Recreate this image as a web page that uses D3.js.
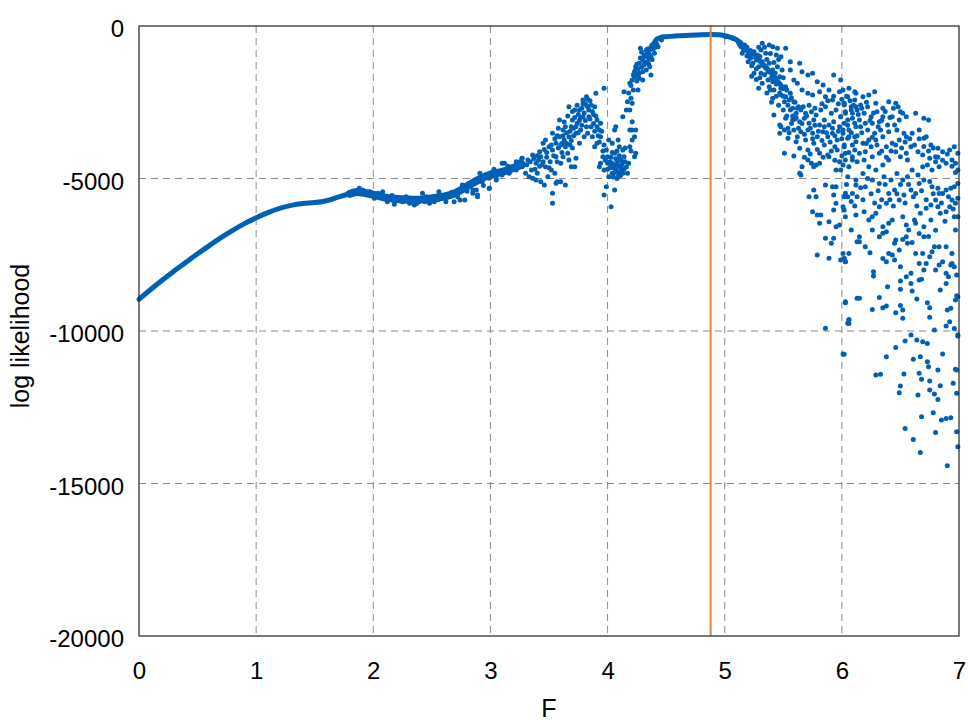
<!DOCTYPE html>
<html>
<head>
<meta charset="utf-8">
<script src="https://cdn.jsdelivr.net/npm/d3@7"></script>
<style>
  body { margin: 0; background: #fff; }
  svg text { font-family: "Liberation Sans", Arial, Helvetica, sans-serif; fill: #000; }
</style>
</head>
<body>
<div id="chart"></div>
<script>
// ---- data ----
const xTicks = [0, 1, 2, 3, 4, 5, 6, 7];
const yTicks = [0, -5000, -10000, -15000, -20000];
const peakF = 4.88;

// smooth part of the curve (dots so dense they form a line)
const ridgeF = [0, 0.1, 0.2, 0.3, 0.4, 0.5, 0.6, 0.7, 0.8, 0.9, 1.0, 1.1, 1.2, 1.3, 1.4, 1.5, 1.6, 1.7, 1.8, 1.86];
const ridgeLL = [-8960, -8640, -8330, -8030, -7750, -7470, -7200, -6940, -6700, -6480, -6290, -6120, -5980, -5880, -5820, -5790, -5730, -5610, -5500, -5440];

// noisy but dense band between 1.85 and 3.3
const bandF = [1.8, 1.86, 2.0, 2.14, 2.34, 2.48, 2.62, 2.71, 2.79, 2.91, 3.0, 3.1, 3.2, 3.27];
const bandLL = [-5500, -5440, -5530, -5650, -5700, -5660, -5580, -5460, -5280, -5020, -4870, -4780, -4650, -4540];

// plateau around the maximum
const plateauF = [4.40, 4.42, 4.45, 4.5, 4.6, 4.7, 4.8, 4.88, 4.95, 5.0, 5.05, 5.1, 5.14];
const plateauLL = [-540, -430, -380, -350, -320, -300, -285, -280, -290, -320, -370, -450, -560];

// dense start of the falling tail
const tailRidgeF = [5.12, 5.2, 5.3, 5.4, 5.5];
const tailRidgeLL = [-560, -850, -1150, -1550, -2050];

const bandPts = [
  [1.88,-5323],[1.91,-5377],[1.97,-5432],[2.01,-5650],[2.08,-5596],[2.12,-5760],[2.18,-5847],[2.25,-5760],
  [2.31,-5814],[2.35,-5869],[2.39,-5760],[2.42,-5487],[2.48,-5814],[2.52,-5760],[2.56,-5432],[2.62,-5760],
  [2.65,-5596],[2.69,-5760],[2.74,-5705],[2.78,-5705],[2.76,-5213],[2.82,-5159],[2.89,-5541],[2.91,-4831],
  [2.99,-5323],[3.05,-5050],[3.10,-4503],[3.22,-4448],[3.27,-4339],[2.22,-5705],[2.45,-5596],[2.08,-5432],
  [2.59,-5596],[2.85,-5377],[2.85,-5159],[2.88,-5377],[2.91,-4995],[2.93,-5104],[2.96,-4886],[2.99,-4995],
  [3.02,-4831],[3.05,-4940],[3.08,-4776],[3.10,-4886],[3.13,-4722],[3.16,-4831],[3.19,-4612],[3.22,-4722],
  [2.85,-5487],[2.89,-5596],[2.99,-5323],[1.94,-5450],[2.04,-5480],[2.16,-5560],[2.28,-5600],[2.37,-5820],
  [2.44,-5760],[2.55,-5700],[2.67,-5450],[2.72,-5600],[2.80,-5420],[2.94,-5230],[3.03,-4700],[3.15,-4600]
];

const humpPts = [
  [3.25,-4448],[3.27,-4612],[3.30,-4831],[3.32,-4394],[3.35,-4722],[3.36,-4995],[3.39,-4503],[3.40,-4831],
  [3.43,-5104],[3.46,-5213],[3.49,-4940],[3.47,-4612],[3.43,-4284],[3.42,-4120],[3.12,-4503],[3.27,-4339],
  [3.36,-4230],[3.33,-4940],[3.39,-5050],[3.52,-4722],[3.55,-4831],[3.56,-5159],[3.60,-5104],[3.64,-5213],
  [3.53,-5487],[3.53,-5815],[3.57,-5104],
  [3.45,-3847],[3.47,-3738],[3.50,-3957],[3.53,-4066],[3.56,-3847],[3.59,-3629],[3.59,-3082],[3.62,-3410],
  [3.63,-3738],[3.64,-3957],[3.66,-4175],[3.67,-4394],[3.69,-4612],[3.72,-4612],[3.67,-3629],[3.69,-3301],
  [3.70,-3082],[3.67,-2645],[3.72,-2754],[3.73,-3519],[3.74,-3191],[3.76,-3847],[3.77,-3410],[3.79,-2973],
  [3.79,-2426],[3.82,-2317],[3.83,-2645],[3.84,-2973],[3.86,-3301],[3.87,-3629],[3.80,-3629],[3.83,-3519],
  [3.89,-2645],[3.90,-2208],[3.91,-3082],[3.93,-3410],[3.94,-3191],[3.97,-2044],[3.53,-3519],[3.56,-4284],
  [3.62,-4284],[3.73,-4339],[3.82,-3301],[3.48,-4300],[3.51,-4450],[3.58,-4000],[3.61,-3850],[3.65,-3500],
  [3.68,-3900],[3.71,-3350],[3.75,-2900],[3.78,-2700],[3.81,-2550],[3.85,-2450],[3.88,-2900],[3.76,-3100],
  [3.70,-4000],[3.60,-4500],[3.44,-4550],[3.41,-4400],[3.38,-4700],[3.46,-4050],[3.57,-3600],[3.63,-3150],
  [3.31,-4550],[3.34,-4450],[3.37,-4350],[3.40,-4250],[3.42,-4600],[3.45,-4450],[3.48,-4150],[3.50,-4650],
  [3.52,-3900],[3.54,-4250],[3.55,-3700],[3.57,-4450],[3.58,-3350],[3.60,-3900],[3.61,-4150],[3.62,-3600],
  [3.64,-3300],[3.65,-3850],[3.66,-2950],[3.68,-3450],[3.69,-3750],[3.70,-2800],[3.71,-3600],[3.72,-3000],
  [3.73,-3300],[3.74,-2600],[3.75,-3500],[3.76,-2750],[3.77,-3000],[3.78,-3250],[3.79,-2550],[3.80,-2850],
  [3.81,-3100],[3.82,-2600],[3.83,-2400],[3.84,-2750],[3.85,-3050],[3.86,-2600],[3.87,-2800],[3.88,-3200],
  [3.89,-3450],[3.90,-2950],[3.91,-3300],[3.92,-3600],[3.93,-3800],[3.95,-3450],[3.96,-4100],[3.98,-4400],
  [3.89,-3957],[3.91,-3847],[3.94,-3629],[3.97,-3902],[3.99,-4066],[3.96,-4284],[3.94,-4503],[3.97,-4722],
  [4.00,-4503],[4.01,-3738],[4.04,-3847],[4.06,-4175],[4.04,-4503],[4.07,-4722],[4.09,-4940],[4.10,-4612],
  [4.11,-4394],[4.13,-4066],[4.14,-4284],[4.16,-4612],[4.17,-4831],[4.13,-4831],[4.04,-4831],[4.01,-4940],
  [4.06,-3410],[4.07,-3301],[4.19,-3957],[4.21,-3738],[4.23,-4284],[4.24,-4175],[3.99,-5268],[3.97,-5541],
  [4.03,-5924],[4.06,-5377],[4.09,-3738],[4.10,-3957],[4.00,-4284],[3.93,-4612],[4.05,-4650],[4.08,-4500],
  [4.12,-4750],[4.03,-4300],[4.08,-4100],[4.15,-4450],[4.02,-4650],[4.11,-4900],
  [4.00,-4700],[4.02,-4450],[4.04,-4150],[4.06,-4600],[4.07,-4350],[4.09,-4800],[4.10,-4250],[4.12,-4550],
  [4.14,-4700],[4.15,-4000],[4.18,-4500],[4.20,-4100],[4.05,-4950],[4.08,-5000],[4.11,-4650],[4.13,-4450],
  [4.03,-4600],[4.06,-4800],[4.09,-4400],
  [4.19,-3410],[4.21,-3137],[4.24,-3410],[4.16,-2754],[4.17,-2481],[4.20,-2372],[4.14,-2153],[4.19,-1880],
  [4.21,-1771],[4.23,-1497],[4.24,-1333],[4.27,-1224],[4.30,-1115],[4.33,-951],[4.36,-787],[4.38,-623],
  [4.41,-514],[4.28,-732],[4.37,-1607],[4.30,-1771],[4.26,-2098],[4.21,-2536],[4.24,-1443],[4.27,-1552],
  [4.31,-1279],[4.34,-1169],[4.36,-1333],[4.33,-1443],[4.40,-896],[4.37,-1005],[4.43,-678],[4.46,-459],
  [4.30,-1497],[4.23,-1661],[4.27,-1716],[4.13,-2973],[4.19,-2754],[4.21,-3410],[4.23,-3629],[4.32,-1000],
  [4.35,-900],[4.39,-750],[4.29,-1350],[4.26,-1400],[4.35,-1250],[4.38,-1100],[4.42,-600],
  [4.18,-2200],[4.20,-1950],[4.22,-1600],[4.25,-1250],[4.26,-1600],[4.28,-1050],[4.29,-850],[4.31,-950],
  [4.32,-1200],[4.34,-750],[4.35,-1050],[4.37,-700],[4.39,-600],[4.41,-700],[4.25,-1800],[4.22,-2100],
  [4.33,-800],[4.36,-950]
];

const tailPts = [
  [5.01,-350],[5.07,-404],[5.12,-514],[5.14,-678],[5.17,-623],[5.18,-787],[5.15,-896],[5.21,-896],
  [5.22,-1060],[5.20,-1169],[5.24,-1224],[5.27,-1115],[5.28,-951],[5.25,-842],[5.31,-787],[5.32,-568],
  [5.38,-623],[5.41,-678],[5.45,-732],[5.52,-732],[5.48,-1005],[5.44,-951],[5.35,-896],[5.32,-1169],
  [5.29,-1333],[5.25,-1552],[5.31,-1552],[5.35,-1388],[5.38,-1224],[5.41,-1443],[5.45,-1333],[5.49,-1443],
  [5.47,-1661],[5.41,-1825],[5.37,-1771],[5.32,-1880],[5.29,-2044],[5.38,-1989],[5.42,-2098],[5.48,-2044],
  [5.52,-1989],[5.56,-1443],[5.56,-1169],[5.64,-1224],[5.66,-1497],[5.71,-1607],[5.75,-1552],[5.59,-1771],
  [5.62,-1880],[5.66,-2098],[5.71,-2208],[5.56,-2208],[5.52,-2317],[5.55,-2426],[5.59,-2481],[5.51,-2481],
  [5.48,-2262],[5.41,-2372],[5.79,-1825],[5.84,-1935],[5.81,-2153],[5.75,-2262],[5.89,-2098],[5.86,-2317],
  [5.92,-2426],[5.93,-1607],[5.99,-1771],[5.98,-2153],[6.05,-2317],[6.11,-2153],[6.02,-2590],[6.08,-2754],
  [6.12,-2645],
  [5.13,-620],[5.16,-760],[5.19,-700],[5.19,-980],[5.22,-800],[5.23,-1300],[5.26,-1000],[5.27,-1400],
  [5.29,-700],[5.30,-1000],[5.33,-1300],[5.34,-1600],[5.34,-700],[5.36,-1100],[5.37,-1500],[5.39,-900],
  [5.40,-1700],[5.42,-1200],[5.43,-1550],[5.44,-1900],[5.46,-1100],[5.47,-2200],[5.50,-1700],[5.50,-2300],
  [5.53,-2100],[5.54,-2600],[5.57,-2350],[5.58,-2700],[5.60,-2500],[5.61,-3000],[5.63,-2650],[5.27,-1750],
  [5.23,-1650],[5.36,-2200],[5.39,-2100],[5.30,-1700],[5.44,-2300],[5.46,-2600],[5.40,-2500],
  [5.56,-2754],[5.61,-2864],[5.65,-2754],[5.69,-2864],[5.74,-2809],[5.78,-2918],[5.82,-2754],[5.86,-2645],
  [5.91,-2864],[5.95,-2754],[5.99,-2973],[6.03,-2864],[6.09,-3028],[5.52,-3028],[5.58,-3082],[5.64,-3137],
  [5.68,-3028],[5.72,-3191],[5.76,-3082],[5.81,-3246],[5.85,-3082],[5.89,-3246],[5.93,-3137],[5.98,-3301],
  [6.02,-3191],[6.06,-3410],[6.12,-3301],[5.48,-3301],[5.54,-3355],[5.59,-3410],[5.65,-3465],[5.71,-3410],
  [5.75,-3519],[5.79,-3629],[5.84,-3465],[5.88,-3629],[5.92,-3519],[5.96,-3738],[6.01,-3519],[6.05,-3683],
  [6.11,-3629],[5.54,-3683],[5.62,-3629],[5.69,-3738],[5.76,-3847],[5.85,-3902],[5.94,-3957],[6.02,-3902],
  [6.09,-3902],[5.64,-4011],[5.71,-4066],[5.81,-4175],[5.88,-4230],[5.96,-4066],[6.03,-4175],[6.09,-4394],
  [5.71,-4394],[5.74,-4503],[5.78,-4558],[5.66,-4612],[5.51,-3410],[5.47,-3519],[5.61,-3792],[5.51,-4175],
  [5.59,-4263],[5.65,-4885],[5.64,-4831],[5.76,-4612],[5.81,-4503],[5.89,-4284],[5.95,-4722],[6.01,-4558],
  [5.98,-4448],[5.42,-2918],[5.47,-3246],
  [5.50,-2750],[5.53,-2950],[5.57,-3200],[5.60,-3050],[5.63,-3350],[5.66,-3200],[5.68,-3550],[5.70,-2950],
  [5.73,-3350],[5.75,-3700],[5.77,-3250],[5.80,-3450],[5.83,-3750],[5.85,-3300],[5.87,-3500],[5.90,-3800],
  [5.92,-3350],[5.94,-3600],[5.97,-3450],[6.00,-3700],[5.58,-2950],[5.62,-2700],[5.67,-2650],[5.72,-2600],
  [5.77,-2700],[5.83,-2550],[5.88,-2450],[5.93,-2300],[5.97,-2550],[6.00,-2400],[5.55,-3500],[5.68,-4300],
  [5.73,-4200],[5.79,-4050],[5.84,-4300],[5.91,-4100],[5.94,-4400],[6.00,-4250],[6.06,-4150],
  [5.72,-5596],[5.76,-5377],[5.78,-5596],[5.86,-5213],[5.92,-5268],[5.95,-5268],[5.93,-5541],[6.03,-5487],
  [6.05,-5596],[5.95,-5815],[5.93,-6033],[6.02,-6033],[5.75,-6088],[5.79,-6197],[5.82,-6197],[5.81,-6470],
  [5.89,-6416],[5.95,-6580],[5.98,-6525],[5.86,-6962],[5.93,-6962],[5.91,-7126],[5.79,-7509],[5.89,-7618],
  [5.99,-7673],[6.03,-7728],[6.13,-7072],[6.12,-6197],[6.12,-5213],[6.13,-8930],[6.03,-9071],[6.06,-9640],
  [6.05,-9749],[5.86,-9913],[6.01,-10755],
  [6.02,-7618],[6.03,-7728],[6.15,-8930],[6.03,-9040],[6.26,-9291],[6.32,-8898],[6.35,-9236],[6.38,-9181],
  [6.46,-9400],[6.52,-9313],[6.52,-9586],[6.50,-9160],[6.64,-8952],[6.75,-9553],[6.73,-9072],[6.75,-9236],
  [6.79,-9968],[6.89,-9837],[6.92,-9695],[6.96,-9914],[6.90,-9313],[6.93,-9258],[6.97,-8985],[6.98,-8843],
  [6.99,-10165],[6.02,-10766],[6.06,-9619],[6.06,-9750],[6.38,-10843],[6.29,-11444],[6.33,-11422],[6.46,-10537],
  [6.54,-10329],[6.59,-10132],[6.64,-10296],[6.69,-10351],[6.73,-10406],[6.61,-10930],[6.67,-10843],[6.73,-11007],
  [6.74,-11171],[6.66,-11389],[6.68,-11586],[6.53,-11411],[6.50,-11805],[6.49,-12023],[6.65,-12100],[6.75,-11641],
  [6.75,-11936],[6.79,-12067],[6.84,-11794],[6.82,-12242],[6.82,-11280],[6.86,-10755],[6.97,-11258],[6.95,-11717],
  [6.98,-12045],[6.78,-12679],[6.68,-12810],[6.85,-12920],[6.89,-12865],[6.93,-12843],[6.54,-13193],[6.61,-13554],
  [6.80,-13324],[6.67,-13980],[6.90,-14417],[6.98,-13302],[6.99,-13794],
  [6.15,-7072],[6.20,-7236],[6.24,-7433],[6.27,-8056],[6.27,-8198],[6.39,-8548],[6.50,-8362],[6.50,-8635],
  [6.60,-8690],[6.59,-8110],[6.66,-8329],[6.68,-8307],[6.55,-8220],[6.59,-8439],[6.72,-7783],[6.75,-7564],
  [6.70,-8001],[6.80,-8001],[6.83,-7837],[6.89,-8110],[6.91,-8220],[6.89,-8439],[6.84,-8657],[6.96,-7892],
  [6.98,-8165],[6.86,-7728],[6.94,-7783],[6.93,-7837],[6.38,-7728],[6.45,-7673],[6.35,-7619],[6.43,-7509],
  [6.50,-7892],[6.63,-7455],[6.66,-7783],[6.69,-7455],[6.77,-7400],[6.79,-7236],[6.83,-7236],[6.89,-7236],
  [6.94,-7455],[6.97,-6690],[6.96,-6252],[6.97,-5815],[6.99,-5651],[6.94,-5706],[6.92,-5925],[6.89,-6088],
  [6.84,-6143],[6.82,-5925],[6.76,-6362],[6.70,-6580],[6.70,-6908],[6.63,-6471],[6.57,-6690],[6.55,-6908],
  [6.56,-7127],[6.49,-7345],[6.46,-7017],[6.40,-7455],[6.35,-6799],[6.32,-6908],[6.38,-6745],[6.45,-7127],
  [6.26,-6252],[6.06,-7455],[6.01,-7455],[6.26,-6690],[6.35,-6580],[6.40,-6471],[6.43,-6362],[6.52,-6252],
  [6.55,-6526],[6.62,-6362],[6.67,-6143],[6.72,-5979],[6.76,-5870],[6.80,-5706],[6.83,-5488],[6.89,-5378],
  [6.93,-5323],[6.96,-5269],[6.99,-5160],[6.86,-5488],[6.82,-5323],[6.77,-5269],[6.70,-5050],[6.66,-5160],
  [6.63,-5488],[6.59,-5378],[6.53,-5542],[6.49,-5706],[6.45,-5378],[6.40,-5488],[6.38,-5815],[6.32,-5925],
  [6.29,-6143],[6.23,-6362],[6.19,-6088],[6.15,-6908],[6.08,-6690],[6.03,-6252],[6.01,-5925],[6.02,-5597],
  [6.09,-5488],[6.13,-5597],[6.20,-5269],[6.26,-5050],[6.32,-5160],[6.36,-4941],[6.42,-5050],[6.47,-4832],
  [6.52,-5050],[6.56,-4941],[6.60,-4723],[6.65,-4887],[6.69,-4613],[6.73,-4559],[6.77,-4723],[6.83,-4613],
  [6.89,-4504],[6.94,-4395],[6.99,-4176],[6.96,-3957],[6.92,-4066],[6.86,-4121],[6.80,-4285],[6.75,-4340],
  [6.69,-4230],[6.65,-4121],[6.59,-3957],[6.55,-4176],[6.50,-4285],[6.46,-4121],[6.40,-4395],[6.35,-4559],
  [6.29,-4723],[6.23,-4613],[6.18,-4832],[6.12,-5050],[6.05,-4941],[5.99,-4723],[6.06,-4613],[6.13,-4449],
  [6.19,-4395],[6.26,-4285],[6.32,-4176],[6.38,-3957],[6.43,-3848],[6.49,-3738],[6.55,-3629],[6.60,-3520],
  [6.66,-3411],[6.72,-3629],[6.76,-3902],[6.82,-4012],[6.74,-3083],[6.70,-3028],[6.63,-2864],[6.52,-2864],
  [6.55,-2973],[6.49,-3083],[6.45,-3247],[6.40,-3465],[6.35,-3629],[6.29,-3738],[6.25,-3957],[6.20,-4121],
  [6.15,-4176],[6.09,-4285],[6.03,-4395],
  [6.04,-5200],[6.08,-5750],[6.11,-5900],[6.16,-5300],[6.18,-5700],[6.22,-5000],[6.25,-5500],[6.28,-5800],
  [6.31,-5400],[6.34,-5700],[6.37,-5200],[6.41,-5700],[6.44,-5900],[6.47,-5500],[6.50,-5200],[6.54,-5800],
  [6.57,-5200],[6.61,-5600],[6.64,-5900],[6.68,-5400],[6.72,-5700],[6.75,-5100],[6.78,-5500],[6.85,-5800],
  [6.91,-5600],[6.95,-6000],[6.88,-6400],[6.80,-6700],[6.74,-6900],[6.66,-6800],[6.60,-7100],[6.52,-7000],
  [6.01,-2099],[6.06,-2044],[6.12,-2208],[6.18,-2318],[6.23,-2263],[6.28,-2154],[6.40,-2482],[6.46,-2536],
  [6.50,-2810],[6.02,-2536],[6.08,-2646],[6.13,-2755],[6.19,-2864],[6.25,-2973],[6.30,-2810],[6.35,-2973],
  [6.05,-3083],[6.11,-3192],[6.16,-3301],[6.22,-3411],[6.28,-3520],[6.33,-3411],[6.39,-3247],[6.01,-3411],
  [6.06,-3629],[6.12,-3793],[6.18,-3848],[6.23,-3738],[6.02,-3957],[6.11,-4066],[5.99,-2973],[6.09,-2864],
  [6.15,-3083],[6.20,-3192],[6.26,-3192],[6.32,-3138],[6.03,-2810],[6.11,-2427],[6.16,-2591],[6.22,-2646],
  [6.29,-2536],[6.35,-2700],[6.43,-2973],[6.47,-3411],[6.53,-3520],[6.56,-4395],[6.70,-3684],[6.80,-4449],
  [6.99,-4723],[6.99,-6252],[6.99,-8876],[6.99,-10133],[6.98,-11280],
  [6.04,-2300],[6.07,-2450],[6.10,-2600],[6.14,-2900],[6.17,-2700],[6.21,-2500],[6.24,-3100],[6.27,-2850],
  [6.31,-3300],[6.34,-3100],[6.37,-2800],[6.41,-3000],[6.44,-2700],[6.48,-2650],[6.05,-3250],[6.08,-3500],
  [6.13,-3600],[6.17,-3500],[6.21,-3850],[6.26,-3650],[6.30,-3900],[6.34,-4100],[6.38,-4300],[6.42,-4100],
  [6.46,-3900],[6.51,-4000],[6.54,-3800],[6.58,-3700],[6.62,-3900],[6.66,-3700],[6.70,-3950],[6.74,-4100],
  [6.78,-4000],[6.82,-4300],[6.86,-4400],[6.90,-4200],[6.94,-4600],[6.97,-4800],[6.97,-4500]
];

// ---- layout ----
const W = 968, H = 726;
const margin = { top: 26, right: 9, bottom: 90, left: 139 };
const width = W - margin.left - margin.right;
const height = H - margin.top - margin.bottom;
const blue = "#0060b6";

const svg = d3.select("#chart").append("svg")
  .attr("width", W)
  .attr("height", H);
const g = svg.append("g")
  .attr("transform", `translate(${margin.left},${margin.top})`);

const x = d3.scaleLinear().domain([0, 7]).range([0, width]);
const y = d3.scaleLinear().domain([-20000, 0]).range([height, 0]);

// grid
g.append("g").selectAll("line")
  .data(xTicks.filter(t => t > 0 && t < 7))
  .join("line")
  .attr("x1", d => x(d)).attr("x2", d => x(d))
  .attr("y1", 0).attr("y2", height)
  .attr("stroke", "#8a8a8a").attr("stroke-width", 1)
  .attr("stroke-dasharray", "7,5");
g.append("g").selectAll("line")
  .data(yTicks.filter(t => t < 0 && t > -20000))
  .join("line")
  .attr("y1", d => y(d)).attr("y2", d => y(d))
  .attr("x1", 0).attr("x2", width)
  .attr("stroke", "#8a8a8a").attr("stroke-width", 1)
  .attr("stroke-dasharray", "7,5");

// dense parts as thick strokes
const line = d3.line().x(d => x(d[0])).y(d => y(d[1])).curve(d3.curveMonotoneX);
const drawRidge = (fs, lls, w) => {
  g.append("path")
    .datum(fs.map((f, i) => [f, lls[i]]))
    .attr("d", line)
    .attr("fill", "none")
    .attr("stroke", blue)
    .attr("stroke-width", w)
    .attr("stroke-linecap", "round");
};
drawRidge(ridgeF, ridgeLL, 5);
drawRidge(bandF, bandLL, 8);
drawRidge(plateauF, plateauLL, 5);
drawRidge(tailRidgeF, tailRidgeLL, 5);

// scattered points
g.append("g").selectAll("circle")
  .data(bandPts.concat(humpPts, tailPts))
  .join("circle")
  .attr("cx", d => x(d[0]))
  .attr("cy", d => y(d[1]))
  .attr("r", 2.5)
  .attr("fill", blue);

// marker at the maximum
g.append("line")
  .attr("x1", x(peakF)).attr("x2", x(peakF))
  .attr("y1", 0).attr("y2", height)
  .attr("stroke", "#dc8a45").attr("stroke-width", 2);

// frame
g.append("rect")
  .attr("width", width).attr("height", height)
  .attr("fill", "none").attr("stroke", "#222").attr("stroke-width", 1.2);

// axes
const xAxis = g.append("g")
  .attr("transform", `translate(0,${height})`)
  .call(d3.axisBottom(x).tickValues(xTicks).tickSize(0).tickPadding(26).tickFormat(d => String(d)));
const yAxis = g.append("g")
  .call(d3.axisLeft(y).tickValues(yTicks).tickSize(0).tickPadding(15).tickFormat(d => String(d)));
[xAxis, yAxis].forEach(a => {
  a.select(".domain").remove();
  a.selectAll("text")
    .style("font-size", "24px")
    .style("font-family", "'Liberation Sans', Arial, sans-serif")
    .attr("fill", "#000");
});
yAxis.selectAll("text").attr("dy", "0.45em");

// axis titles
svg.append("text")
  .attr("x", margin.left + width / 2)
  .attr("y", 717)
  .attr("text-anchor", "middle")
  .style("font-size", "25px")
  .text("F");
svg.append("text")
  .attr("transform", `translate(29,${margin.top + height / 2 + 5}) rotate(-90)`)
  .attr("text-anchor", "middle")
  .style("font-size", "25px")
  .text("log likelihood");
</script>
</body>
</html>
